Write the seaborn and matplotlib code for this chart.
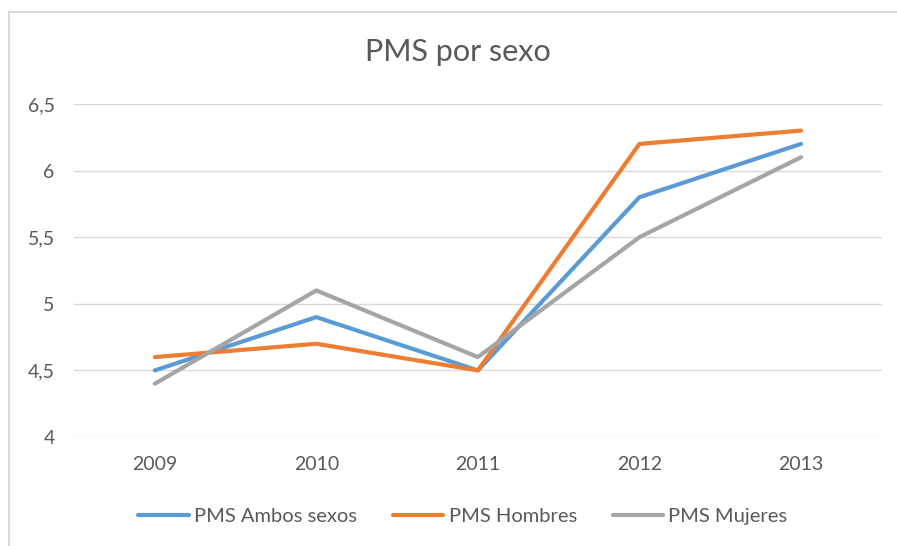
import pandas as pd
import matplotlib.pyplot as plt
import seaborn as sns
from matplotlib.ticker import FuncFormatter
from matplotlib.lines import Line2D

### Data
years = ['2009', '2010', '2011', '2012', '2013']
ambos = [4.5, 4.9, 4.5, 5.8, 6.2]
hombres = [4.6, 4.7, 4.5, 6.2, 6.3]
mujeres = [4.4, 5.1, 4.6, 5.5, 6.1]
series_names = ['PMS Ambos sexos', 'PMS Hombres', 'PMS Mujeres']
y_ticks = [4, 4.5, 5, 5.5, 6, 6.5]

df = pd.DataFrame({
    'year': years * 3,
    'value': ambos + hombres + mujeres,
    'serie': [n for n in series_names for _ in years],
})

### Style
sns.set_theme(style='white')
plt.rcParams['font.family'] = ['Lato', 'DejaVu Sans']
text_color = '#595959'
palette = {'PMS Ambos sexos': '#5B9BD5', 'PMS Hombres': '#ED7D31', 'PMS Mujeres': '#A5A5A5'}

fig = plt.figure(figsize=(8.97, 5.46), dpi=100)
ax = fig.add_axes([0.0825, 0.1996, 0.9005, 0.61])

sns.lineplot(data=df, x='year', y='value', hue='serie', palette=palette,
             linewidth=3, sort=False, ax=ax)

# chart border: only top and left edges are visible in the screenshot
bx, by = 9 / 897, 1 - 12 / 546
fig.lines.append(Line2D([bx, 1.0], [by, by], transform=fig.transFigure,
                        color='#D9D9D9', linewidth=1.5))
fig.lines.append(Line2D([bx, bx], [0.0, by], transform=fig.transFigure,
                        color='#D9D9D9', linewidth=1.5))

ax.set_xlim(-0.5, 4.5)
ax.set_ylim(4, 6.5)
ax.set_yticks(y_ticks)
ax.yaxis.set_major_formatter(FuncFormatter(lambda v, p: f'{v:g}'.replace('.', ',')))
ax.grid(axis='y', color='#D9D9D9', linewidth=1)
ax.grid(axis='x', visible=False)
for s in ax.spines.values():
    s.set_visible(False)
ax.tick_params(axis='both', length=0, labelsize=14, labelcolor=text_color)
ax.tick_params(axis='y', pad=14)
ax.tick_params(axis='x', pad=14)
ax.set_xlabel('')
ax.set_ylabel('')

fig.text(0.511, 1 - 52 / 546, 'PMS por sexo', ha='center', va='center',
         fontsize=22, color=text_color)

ax.legend(loc='center', ncol=3, frameon=False, fontsize=14.5,
          handlelength=2.5, handletextpad=0.25, columnspacing=1.8,
          labelcolor=text_color)
ax.legend_.set_bbox_to_anchor((463 / 897, 1 - 516 / 546), transform=fig.transFigure)

plt.savefig('out.png', dpi=100)
